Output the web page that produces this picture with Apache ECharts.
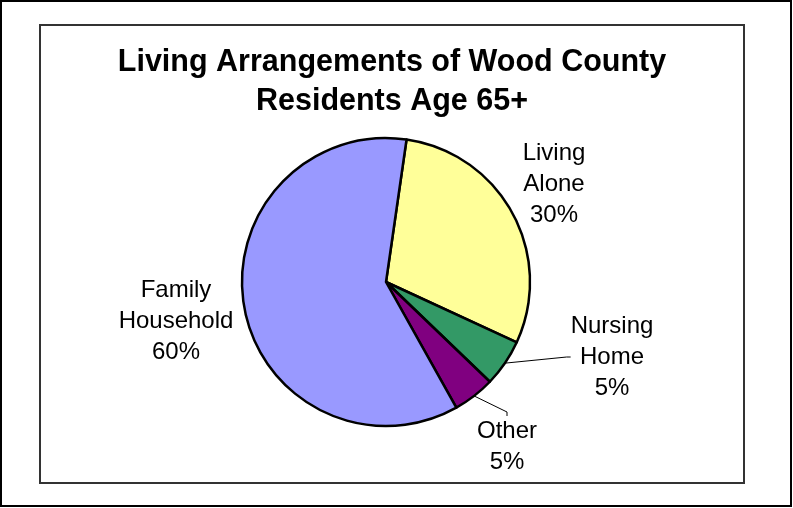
<!DOCTYPE html>
<html><head><meta charset="utf-8">
<script src="https://cdn.jsdelivr.net/npm/echarts@6/dist/echarts.min.js"></script>
<style>html,body{margin:0;padding:0;background:#fff}#c{width:793px;height:508px}</style>
</head><body><div id="c"></div>
<script>
// ---- data ----
const titleLines = ['Living Arrangements of Wood County', 'Residents Age 65+'];
const categories = ['Living Alone', 'Nursing Home', 'Other', 'Family Household'];
const labelNames = ['Living\nAlone', 'Nursing\nHome', 'Other', 'Family\nHousehold'];
const values = [29.6, 5.3, 4.7, 60.4];

// ---- styles ----
const colors = ['#FFFF99', '#339966', '#800080', '#9999FF'];
const showLeader = [false, true, true, false];
const labelAnchors = [[554, 184], [612, 357], [507, 447], [176, 321]];
const FONT = '"Liberation Sans", Arial, Helvetica, sans-serif';

const chart = echarts.init(document.getElementById('c'), null, {renderer: 'canvas'});
chart.setOption({
  animation: false,
  backgroundColor: '#fff',
  title: {
    text: titleLines.join('\n'),
    left: 392, top: 43, padding: 0,
    textAlign: 'center', textVerticalAlign: 'top',
    textStyle: {fontFamily: FONT, fontSize: 30.5, fontWeight: 'bold', lineHeight: 39, color: '#000'}
  },
  graphic: [
    {type: 'rect', silent: true, shape: {x: 1, y: 1, width: 790, height: 505},
     style: {fill: 'none', stroke: '#000', lineWidth: 2}},
    {type: 'rect', silent: true, shape: {x: 40, y: 25, width: 704, height: 458},
     style: {fill: 'none', stroke: '#333', lineWidth: 2}}
  ],
  series: [{
    type: 'pie',
    center: [386, 282],
    radius: 144,
    startAngle: 81.8,
    clockwise: true,
    avoidLabelOverlap: false,
    emphasis: {disabled: true},
    itemStyle: {borderColor: '#000', borderWidth: 2.5},
    label: {
      show: true, position: 'outside',
      fontFamily: FONT, fontSize: 24, lineHeight: 31, color: '#000',
      formatter: p => labelNames[p.dataIndex] + '\n' + Math.round(p.percent) + '%'
    },
    labelLine: {show: true, length: 5, length2: 4, smooth: false,
      lineStyle: {color: '#000', width: 1}},
    labelLayout: function (p) {
      const a = labelAnchors[p.dataIndex];
      return {x: a[0], y: a[1], align: 'center', verticalAlign: 'middle'};
    },
    data: categories.map((c, i) => ({
      name: c, value: values[i],
      itemStyle: {color: colors[i]},
      labelLine: {show: showLeader[i]}
    }))
  }]
});
</script>
</body></html>
